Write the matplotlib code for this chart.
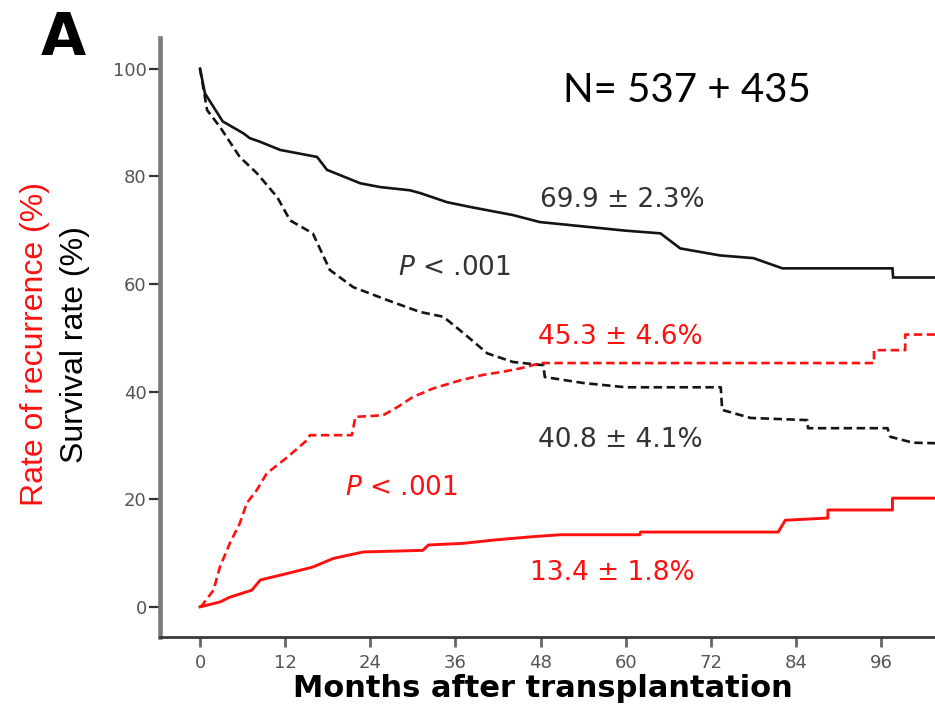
import matplotlib
matplotlib.use("Agg")
import matplotlib.pyplot as plt

# Kaplan-Meier style curves (months after transplantation, %)
months_os_a = [0, 0.7, 1.9, 3.2, 6.1, 7.0, 8.5, 11.3, 16.5, 17.9, 22.6, 25.4, 29.6,
               31.0, 34.8, 38.1, 44.1, 47.9, 60.0, 64.9, 67.7, 73.3, 78.0, 82.1,
               97.6, 97.7, 104.0]
survival_a = [100, 95.4, 92.9, 90.2, 88.0, 87.1, 86.4, 84.9, 83.6, 81.2, 78.7, 78.0,
              77.4, 76.9, 75.2, 74.3, 72.8, 71.5, 69.9, 69.4, 66.6, 65.3, 64.8, 62.9,
              62.9, 61.2, 61.2]

months_os_b = [0, 1.0, 2.8, 5.6, 8.0, 10.9, 12.7, 15.9, 18.3, 21.6, 26.4, 31.0, 34.3,
               37.1, 40.5, 44.1, 48.4, 48.6, 54.0, 60.0, 73.4, 73.6, 77.6, 85.6, 85.7,
               96.9, 97.3, 100.5, 104.0]
survival_b = [100, 92.3, 89.2, 83.6, 80.6, 76.1, 71.8, 69.4, 62.6, 59.4, 57.0, 54.8,
              53.9, 50.9, 47.1, 45.5, 44.9, 42.7, 41.6, 40.8, 40.8, 36.6, 35.1, 34.7,
              33.2, 33.2, 31.6, 30.5, 30.4]

months_rec_b = [0, 0.3, 1.9, 2.8, 4.2, 5.6, 6.6, 8.0, 9.4, 12.3, 15.1, 15.5, 21.4,
                21.9, 25.8, 27.8, 30.0, 32.9, 36.7, 39.9, 42.3, 45.1, 48.0, 95.0,
                95.0, 99.4, 99.4, 104.0]
recurrence_b = [0, 0.3, 3.1, 7.4, 11.8, 15.5, 19.3, 21.7, 24.8, 27.8, 31.0, 31.9, 31.9,
                35.3, 35.6, 37.1, 39.0, 40.6, 42.1, 43.1, 43.6, 44.3, 45.3, 45.3,
                47.7, 47.7, 50.6, 50.6]

months_rec_a = [0, 2.8, 4.2, 7.3, 8.5, 12.3, 15.9, 18.8, 23.0, 31.4, 32.2, 37.1, 41.3,
                46.5, 50.8, 62.0, 62.1, 81.5, 82.5, 88.5, 88.5, 97.6, 97.6, 104.0]
recurrence_a = [0, 0.9, 1.8, 3.1, 5.0, 6.2, 7.4, 9.0, 10.2, 10.5, 11.5, 11.8, 12.4,
                13.0, 13.4, 13.4, 13.9, 13.9, 16.1, 16.5, 18.0, 18.0, 20.2, 20.2]

x_ticks = [0, 12, 24, 36, 48, 60, 72, 84, 96]
y_ticks = [0, 20, 40, 60, 80, 100]

RED = "#ff1010"
BLACK = "#141414"

fig = plt.figure(figsize=(9.35, 7.06), dpi=100)
ax = fig.add_axes([160 / 935, 1 - 637 / 706, 1 - 160 / 935, (637 - 38) / 706])

dash = (0, (3.2, 1.7))
ax.plot(months_os_a, survival_a, color=BLACK, lw=1.9, solid_joinstyle="miter")
ax.plot(months_os_b, survival_b, color=BLACK, lw=1.9, linestyle=dash)
ax.plot(months_rec_b, recurrence_b, color=RED, lw=1.9, linestyle=dash)
ax.plot(months_rec_a, recurrence_a, color=RED, lw=2.1)

ax.set_xlim(-5.64, 103.6)
ax.set_ylim(-5.6, 105.7)

for side in ("top", "right"):
    ax.spines[side].set_visible(False)
ax.spines["left"].set_color("#7a7a7a")
ax.spines["left"].set_linewidth(3.3)
ax.spines["bottom"].set_color("#3a3a3a")
ax.spines["bottom"].set_linewidth(2.0)

ax.set_xticks(x_ticks)
ax.set_yticks(y_ticks)
ax.set_xticklabels([str(t) for t in x_ticks])
ax.set_yticklabels([str(t) for t in y_ticks])
ax.tick_params(axis="y", direction="out", length=8, width=1.6, color="#333333",
               pad=1.5, labelsize=13, labelcolor="#555555")
ax.tick_params(axis="x", direction="out", length=7, width=2.0, color="#666666",
               pad=5, labelsize=13, labelcolor="#555555")
for lab in ax.get_xticklabels() + ax.get_yticklabels():
    lab.set_family("DejaVu Sans")

# Curve annotations
ann = dict(fontsize=19, family="DejaVu Sans", ha="left", va="baseline")
ax.text(47.9, 74.35, "69.9 \u00b1 2.3%", color="#333333", **ann)
ax.text(27.9, 61.6, "$\\mathit{P}$ < .001", color="#333333", **ann)
ax.text(47.7, 48.8, "45.3 \u00b1 4.6%", color=RED, **ann)
ax.text(47.7, 29.7, "40.8 \u00b1 4.1%", color="#333333", **ann)
ax.text(20.4, 20.8, "$\\mathit{P}$ < .001", color=RED, **ann)
ax.text(46.5, 5.0, "13.4 \u00b1 1.8%", color=RED, **ann)

# Axis titles
fig.text(35 / 935, 1 - 344 / 706, "Rate of recurrence (%)", rotation=90,
         color=RED, fontsize=23, family="Liberation Sans", ha="center", va="center")
fig.text(75 / 935, 1 - 345 / 706, "Survival rate (%)", rotation=90,
         color="black", fontsize=23, family="Liberation Sans", ha="center", va="center")
fig.text(543 / 935, 9 / 706, "Months after transplantation", fontsize=22,
         fontweight="bold", family="DejaVu Sans", ha="center", va="baseline")

# Panel letter and cohort size
fig.text(63 / 935, 1 - 55 / 706, "A", fontsize=42, fontweight="bold",
         family="DejaVu Sans", ha="center", va="baseline")
fig.text(563 / 935, 1 - 101.7 / 706, "N= 537 + 435", fontsize=29, family="Lato",
         ha="left", va="baseline")

fig.savefig("out.png", dpi=100)
